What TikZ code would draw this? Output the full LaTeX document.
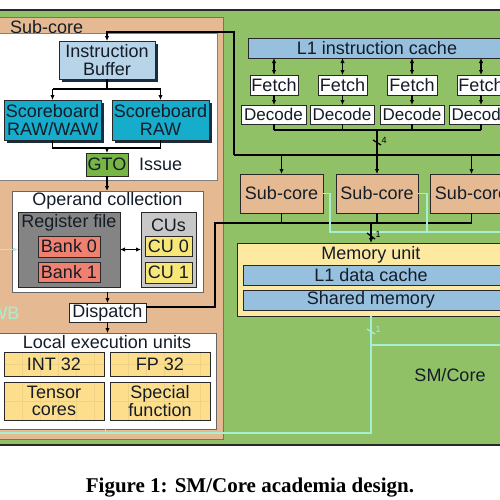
\documentclass[tikz,border=0pt]{standalone}
\usepackage{fontspec}
\setmainfont{Liberation Sans}
\newfontfamily\capfont{Liberation Serif}
\usetikzlibrary{arrows.meta}
\definecolor{smgreen}{RGB}{145,193,102}
\definecolor{subor}{RGB}{229,186,146}
\definecolor{ibblue}{RGB}{184,212,232}
\definecolor{cblue}{RGB}{150,192,222}
\definecolor{sbteal}{RGB}{22,172,204}
\definecolor{shad}{RGB}{25,45,65}
\definecolor{gtogreen}{RGB}{120,182,68}
\definecolor{memyel}{RGB}{253,233,160}
\definecolor{exyel}{RGB}{252,222,140}
\definecolor{gridc}{RGB}{238,210,134}
\definecolor{rfgray}{RGB}{132,132,132}
\definecolor{cugray}{RGB}{200,200,200}
\definecolor{banksal}{RGB}{240,128,112}
\definecolor{cuyel}{RGB}{248,230,118}
\definecolor{wbc}{RGB}{165,240,212}
\definecolor{edge}{RGB}{40,40,40}
\definecolor{txt}{RGB}{20,28,40}
\newcommand\mybox[7]{\node[#6, minimum width={#4-#2}, minimum height={#5-#3}] (#1) at ({(#2+#4)/2},{(#3+#5)/2}) {#7};}
\tikzset{
  box/.style={draw=edge, line width=0.9pt, inner sep=0pt, outer sep=0pt, align=center, text=txt, font=\fontsize{18}{17.5}\selectfont},
  lbl/.style={inner sep=0pt, text=txt, font=\fontsize{18}{17.5}\selectfont},
  small/.style={font=\fontsize{17}{17}\selectfont},
  conn/.style={draw=black, line width=1.2pt},
  arr/.style={conn, -{Latex[length=5pt,width=4.5pt]}},
  darr/.style={conn, {Latex[length=5pt,width=4.5pt]}-{Latex[length=5pt,width=4.5pt]}},
  wb/.style={draw=wbc, line width=1.6pt},
  slash/.style={draw=black, line width=1.3pt},
  grid/.style={path picture={
     \foreach \i in {18,36,...,108}{\draw[gridc, line width=0.8pt] ([xshift=\i pt]path picture bounding box.north west) -- ([xshift=\i pt]path picture bounding box.south west);}
     \draw[gridc, line width=0.8pt] (path picture bounding box.west) -- (path picture bounding box.east);}},
}
\begin{document}
\begin{tikzpicture}[x=1pt,y=-1pt]
\useasboundingbox (0,0) rectangle (500,499);
\clip (0,0) rectangle (500,499);
% big containers
\mybox{sm}{-5}{10}{505}{445}{box, fill=smgreen, line width=1.2pt}{}
\node[lbl] (smlbl) at (450,375) {SM/Core};
\mybox{sub}{-5}{17}{223}{439}{box, fill=subor, draw=black!55}{}
\node[lbl, anchor=west] (sublbl) at (10,27) {Sub-core};
\mybox{topw}{-5}{33}{217}{180}{box, fill=white, draw=black!50}{}
% instruction buffer and scoreboards (with shadows)
\fill[shad] (62,44) rectangle (158,82);
\mybox{ib}{59}{41}{155}{79}{box, fill=ibblue}{Instruction\\Buffer}
\fill[shad] (7,103) rectangle (104,143);
\mybox{sb1}{4}{100}{101}{140}{box, fill=sbteal}{Scoreboard\\RAW/WAW}
\fill[shad] (115,103) rectangle (212,143);
\mybox{sb2}{112}{100}{209}{140}{box, fill=sbteal}{Scoreboard\\RAW}
\mybox{gto}{86}{153}{128}{176}{box, fill=gtogreen}{GTO}
\node[lbl, anchor=west] (issue) at (139,164) {Issue};
% operand collection
\mybox{oc}{12}{191}{203}{292}{box, fill=white, draw=black!60}{}
\node[lbl] (octitle) at (107.5,200.5) {Operand collection};
\mybox{rf}{18}{212}{120}{287}{box, fill=rfgray}{}
\node[lbl] (rftitle) at (69,223) {Register file};
\mybox{b0}{38}{236}{100}{257}{box, fill=banksal}{Bank 0}
\mybox{b1}{38}{262}{100}{282}{box, fill=banksal}{Bank 1}
\mybox{cus}{141}{212}{196}{287}{box, fill=cugray}{}
\node[lbl] (custitle) at (168.5,225) {CUs};
\mybox{cu0}{145}{236}{192}{256}{box, fill=cuyel}{CU 0}
\mybox{cu1}{145}{262}{192}{283}{box, fill=cuyel}{CU 1}
\mybox{dp}{69}{303}{146}{322}{box, fill=white}{Dispatch}
% local execution units
\mybox{leu}{-5}{333}{216}{429}{box, fill=white, draw=black!60}{}
\node[lbl] (leutitle) at (107,342) {Local execution units};
\mybox{int}{4}{352}{104}{376}{box, fill=exyel, grid}{INT 32}
\mybox{fp}{110}{352}{210}{376}{box, fill=exyel, grid}{FP 32}
\mybox{tc}{4}{382}{104}{420}{box, fill=exyel, grid}{Tensor\\cores}
\mybox{sf}{110}{382}{210}{420}{box, fill=exyel, grid}{Special\\function}
% right side: front end
\mybox{l1i}{248}{38}{505}{58}{box, fill=cblue}{}
\node[lbl] (l1ilbl) at (377,48) {L1 instruction cache};
\mybox{f1}{250}{75}{298}{95}{box, fill=white}{Fetch}
\mybox{f2}{318}{75}{367}{95}{box, fill=white}{Fetch}
\mybox{f3}{387}{75}{437}{95}{box, fill=white}{Fetch}
\mybox{f4}{457}{75}{505}{95}{box, fill=white}{Fetch}
\mybox{d1}{241}{105}{306}{124}{box, fill=white, small}{Decode}
\mybox{d2}{310}{105}{374}{124}{box, fill=white, small}{Decode}
\mybox{d3}{380}{105}{444}{124}{box, fill=white, small}{Decode}
\mybox{d4}{449}{105}{513}{124}{box, fill=white, small}{Decode}
\mybox{sc1}{240}{174}{323}{213}{box, fill=subor}{Sub-core}
\mybox{sc2}{336}{174}{418}{213}{box, fill=subor}{Sub-core}
\mybox{sc3}{430}{174}{513}{213}{box, fill=subor}{Sub-core}
% memory unit
\mybox{mem}{237}{243}{505}{316}{box, fill=memyel}{}
\node[lbl] (memlbl) at (371,255) {Memory unit};
\mybox{l1d}{243}{265}{505}{285}{box, fill=cblue}{}
\node[lbl] (l1dlbl) at (371,275) {L1 data cache};
\mybox{shm}{243}{290}{505}{310}{box, fill=cblue}{}
\node[lbl] (shmlbl) at (371,300) {Shared memory};
% caption
\node[inner sep=0pt, font=\capfont\bfseries\fontsize{21}{24}\selectfont] (cap) at (250,488) {Figure 1: SM/Core academia design.};
% ---- connectors ----
% front end
\foreach \f/\d in {f1/d1,f2/d2,f3/d3,f4/d4}{
  \draw[darr] (\f.north |- l1i.south) -- (\f.north);
  \draw[arr] (\f.south) -- (\f.south |- \d.north);
  \draw[conn] (\f.south |- \d.south) -- (\f.south |- 0,130);
}
\draw[conn] (f1.south |- 0,130) -- (f4.south |- 0,130);
\coordinate (bA) at (234,155);
\coordinate (bE) at (505,155);
\draw[conn] (sc2.north |- 0,130) -- (sc2.north |- bA);
\draw[slash] (373,140) -- (381,145);
\node[inner sep=0pt, font=\fontsize{9}{9}\selectfont] (n4) at (384,140) {4};
\draw[conn] (bA) -- (bE);
\foreach \s in {sc1,sc2,sc3}{\draw[arr] (\s.north |- bA) -- (\s.north);}
\draw[arr] (bA) -- (234,32) -| (ib.north);
% sub-core internal
\draw[conn] (ib.south) -- (ib.south |- 0,89);
\draw[conn] (sb1.north |- 0,89) -- (sb2.north |- 0,89);
\draw[arr] (sb1.north |- 0,89) -- (sb1.north);
\draw[arr] (sb2.north |- 0,89) -- (sb2.north);
\draw[conn] (sb1.south) -- (sb1.south |- 0,148) -- (sb2.south |- 0,148) -- (sb2.south);
\draw[arr] (gto.north |- 0,148) -- (gto.north);
\draw[arr] (gto.south) -- (gto.south |- oc.north);
\draw[darr] (rf.east) -- (cus.west);
\draw[arr] (dp.north |- oc.south) -- (dp.north);
\draw[arr] (dp.south) -- (dp.south |- leu.north);
% dispatch / sub-cores to memory
\draw[conn] (dp.east |- 0,307) -- (215,307) -- (215,223) -- (sc3.south |- 0,223) -- (sc3.south);
\draw[conn] (sc1.south) -- (sc1.south |- 0,223);
\draw[conn] (sc2.south) -- (sc2.south |- 0,223);
% writeback (cyan)
\draw[wb] (sc1.east) -- (330,193.5) -- (330,232) -- (505,232);
\draw[wb] (sc2.east) -- (427,193.5) -- (427,232);
\draw[wb] (mem.south) -- (mem.south |- 0,433) -- (-5,433);
\draw[wb] (mem.south |- 0,345) -- (505,345);
\draw[wb] (leu.south) -- (leu.south |- 0,433);
\draw[wb, -{Latex[length=5pt,width=4.5pt]}] (-5,249.5) -- (rf.west);
\draw[wb, line width=1.3pt] (367,329) -- (375,334);
\node[inner sep=0pt, text=wbc, font=\fontsize{9}{9}\selectfont] (n1b) at (378,329) {1};
\node[inner sep=0pt, text=wbc, font=\fontsize{18}{18}\selectfont] (wblbl) at (5,313) {WB};
% memory arrow (drawn over cyan)
\draw[arr] (mem.north |- 0,223) -- (mem.north);
\draw[slash] (367,233) -- (375,239);
\node[inner sep=0pt, font=\fontsize{9}{9}\selectfont] (n1) at (378,234) {1};
\end{tikzpicture}
\end{document}
